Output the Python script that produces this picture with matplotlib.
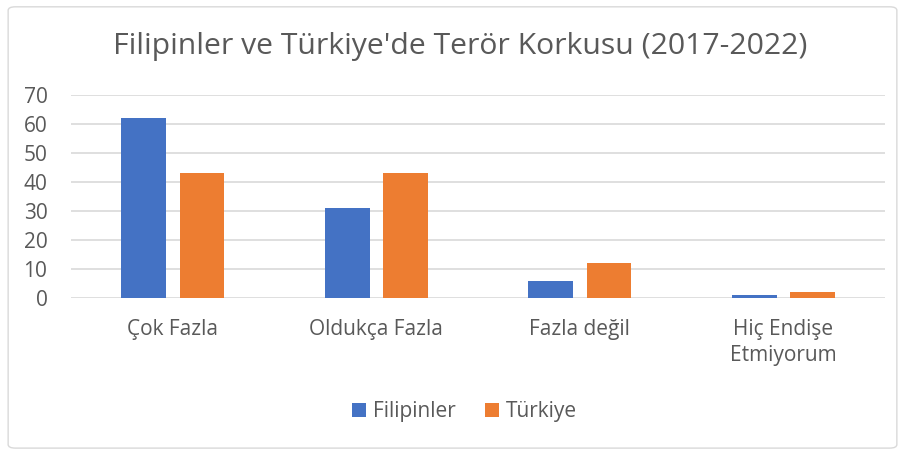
import numpy as np
import matplotlib.pyplot as plt
from matplotlib.patches import FancyBboxPatch

categories = ["Çok Fazla", "Oldukça Fazla", "Fazla değil", "Hiç Endişe\nEtmiyorum"]
filipinler = [62, 31, 6, 1]
turkiye = [43, 43, 12, 2]
yticks = [0, 10, 20, 30, 40, 50, 60, 70]

plt.rcParams['font.family'] = ['Open Sans', 'DejaVu Sans']
gray = "#595959"

fig = plt.figure(figsize=(9.05, 4.54), dpi=100)
ax = fig.add_axes([0.0785, 0.3436, 0.8995, 0.4471])

x = np.arange(len(categories))
w = 0.22
ax.bar(x - 0.143, filipinler, w, color="#4472C4", label="Filipinler", zorder=3)
ax.bar(x + 0.143, turkiye, w, color="#ED7D31", label="Türkiye", zorder=3)

ax.set_xlim(-0.5, 3.5)
ax.set_ylim(0, 70)
ax.set_yticks(yticks)
ax.set_xticks(x)
ax.set_xticklabels(categories, linespacing=1.35)
ax.grid(axis="y", color="#d9d9d9", linewidth=1.2, zorder=0)
for s in ax.spines.values():
    s.set_visible(False)
ax.tick_params(length=0, labelsize=15, colors=gray)
ax.tick_params(axis="x", pad=15)
ax.tick_params(axis="y", pad=17)

fig.text(0.508, 0.898, "Filipinler ve Türkiye'de Terör Korkusu (2017-2022)",
         ha="center", va="center", fontsize=21.7, color=gray)

leg = fig.legend(loc="center", bbox_to_anchor=(0.513, 0.093), ncol=2, frameon=False,
                 fontsize=15, handlelength=0.7, handleheight=0.7, columnspacing=1.4,
                 handletextpad=0.3)
for t in leg.get_texts():
    t.set_color(gray)

border = FancyBboxPatch((0.009, 0.013), 0.982, 0.972, boxstyle="round,pad=0,rounding_size=0.008",
                        transform=fig.transFigure, fill=False, edgecolor="#d9d9d9", linewidth=1)
fig.patches.append(border)

fig.savefig("out.png", dpi=100)
